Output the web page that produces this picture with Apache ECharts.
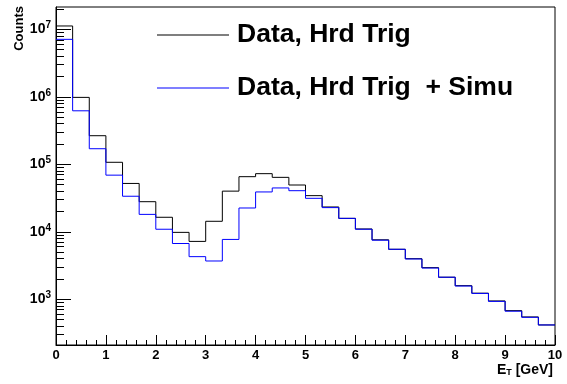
<!DOCTYPE html>
<html>
<head>
<meta charset="utf-8">
<script src="https://cdn.jsdelivr.net/npm/echarts@6/dist/echarts.min.js"></script>
<style>html,body{margin:0;padding:0;background:#fff;}#c{width:567px;height:384px;}</style>
</head>
<body>
<div id="c"></div>
<script>
// Histogram: 30 bins of width 1/3 GeV from 0 to 10
var binLow = 0, binHigh = 10, nBins = 30;
var dataHrd = [1.12e7, 9.8e5, 2.65e5, 1.07e5, 5.2e4, 2.79e4, 1.64e4, 9.8e3, 7.2e3, 1.43e4,
               4.0e4, 6.55e4, 7.26e4, 6.4e4, 4.93e4, 3.43e4, 2.33e4, 1.58e4, 1.1e4, 7.6e3,
               5.5e3, 3.99e3, 2.94e3, 2.12e3, 1.59e3, 1.23e3, 944, 678, 547, 416];
var dataSimu = [7.1e6, 6.2e5, 1.70e5, 6.9e4, 3.36e4, 1.81e4, 1.09e4, 6.7e3, 4.28e3, 3.69e3,
                7.7e3, 2.25e4, 3.89e4, 4.46e4, 4.06e4, 3.13e4, 2.28e4, 1.58e4, 1.09e4, 7.5e3,
                5.5e3, 3.95e3, 2.9e3, 2.12e3, 1.57e3, 1.22e3, 930, 665, 540, 416];
var seriesNames = ['Data, Hrd Trig', 'Data, Hrd Trig  + Simu'];
var xTicks = [0, 1, 2, 3, 4, 5, 6, 7, 8, 9, 10];
var yMajorTicks = [1e3, 1e4, 1e5, 1e6, 1e7];
var yMin = 210, yMax = 2.14e7;

function stepData(vals) {
  var w = (binHigh - binLow) / nBins;
  var out = vals.map(function (v, i) { return [binLow + i * w, v]; });
  out.push([binHigh, vals[vals.length - 1]]);
  return out;
}
var yMinor = [];
for (var e = 2; e <= 7; e++) {
  for (var k = 2; k <= 9; k++) {
    var v = k * Math.pow(10, e);
    if (v > yMin && v < yMax) yMinor.push(v);
  }
}

var chart = echarts.init(document.getElementById('c'), null, {renderer: 'canvas'});
var font = 'Liberation Sans';
chart.setOption({
  animation: false,
  backgroundColor: '#fff',
  grid: {left: 56, right: 12, top: 7, bottom: 39, show: true, borderColor: '#000', borderWidth: 1, backgroundColor: 'transparent'},
  legend: {
    orient: 'vertical', left: 157, top: 20, padding: 0, itemWidth: 72, itemHeight: 1, itemGap: 23,
    icon: 'rect',
    data: seriesNames,
    textStyle: {fontFamily: font, fontWeight: 'bold', fontSize: 26.5, color: '#000', lineHeight: 30, padding: [0, 0, 0, 3]}
  },
  xAxis: {
    type: 'value', min: 0, max: 10, interval: 1,
    axisLine: {lineStyle: {color: '#000', width: 1}},
    axisTick: {show: true, inside: true, length: 10, lineStyle: {color: '#000'}},
    minorTick: {show: true, splitNumber: 5, length: 5, lineStyle: {color: '#000'}},
    splitLine: {show: false},
    axisLabel: {fontFamily: font, fontWeight: 'bold', fontSize: 13, color: '#000', margin: 4,
      customValues: xTicks}
  },
  yAxis: [{
    type: 'log', logBase: 10, min: yMin, max: yMax,
    axisLine: {lineStyle: {color: '#000', width: 1}},
    axisTick: {show: true, inside: true, length: 15, lineStyle: {color: '#000'}, customValues: yMajorTicks},
    splitLine: {show: false},
    axisLabel: {
      customValues: yMajorTicks, margin: 5,
      formatter: function (v) { return '{b|10}{s|' + Math.round(Math.log10(v)) + '}'; },
      rich: {
        b: {fontFamily: font, fontWeight: 'bold', fontSize: 14, color: '#000'},
        s: {fontFamily: font, fontWeight: 'bold', fontSize: 10, color: '#000', padding: [0, 0, 8, 0]}
      }
    }
  }, {
    type: 'log', logBase: 10, min: yMin, max: yMax, position: 'left',
    axisLine: {show: false},
    axisTick: {show: true, inside: true, length: 8, lineStyle: {color: '#000'}, customValues: yMinor},
    splitLine: {show: false},
    axisLabel: {show: false}
  }],
  series: [{
    name: seriesNames[0], type: 'line', step: 'end', showSymbol: false, symbol: 'none',
    data: stepData(dataHrd), color: '#000',
    lineStyle: {color: '#000', width: 1}
  }, {
    name: seriesNames[1], type: 'line', step: 'end', showSymbol: false, symbol: 'none',
    data: stepData(dataSimu), color: '#0000ff',
    lineStyle: {color: '#0000ff', width: 1}
  }],
  graphic: [{
    type: 'text', left: 13, top: 6, rotation: Math.PI / 2,
    style: {text: 'Counts', fontFamily: font, fontWeight: 'bold', fontSize: 13, fill: '#000'}
  }, {
    type: 'text', right: 14, top: 363,
    style: {
      text: '{e|E}{t|T}{e| [GeV]}',
      rich: {
        e: {fontFamily: font, fontWeight: 'bold', fontSize: 14, fill: '#000'},
        t: {fontFamily: font, fontWeight: 'bold', fontSize: 9, fill: '#000', padding: [6, 0, 0, 0]}
      }
    }
  }]
});
</script>
</body>
</html>
